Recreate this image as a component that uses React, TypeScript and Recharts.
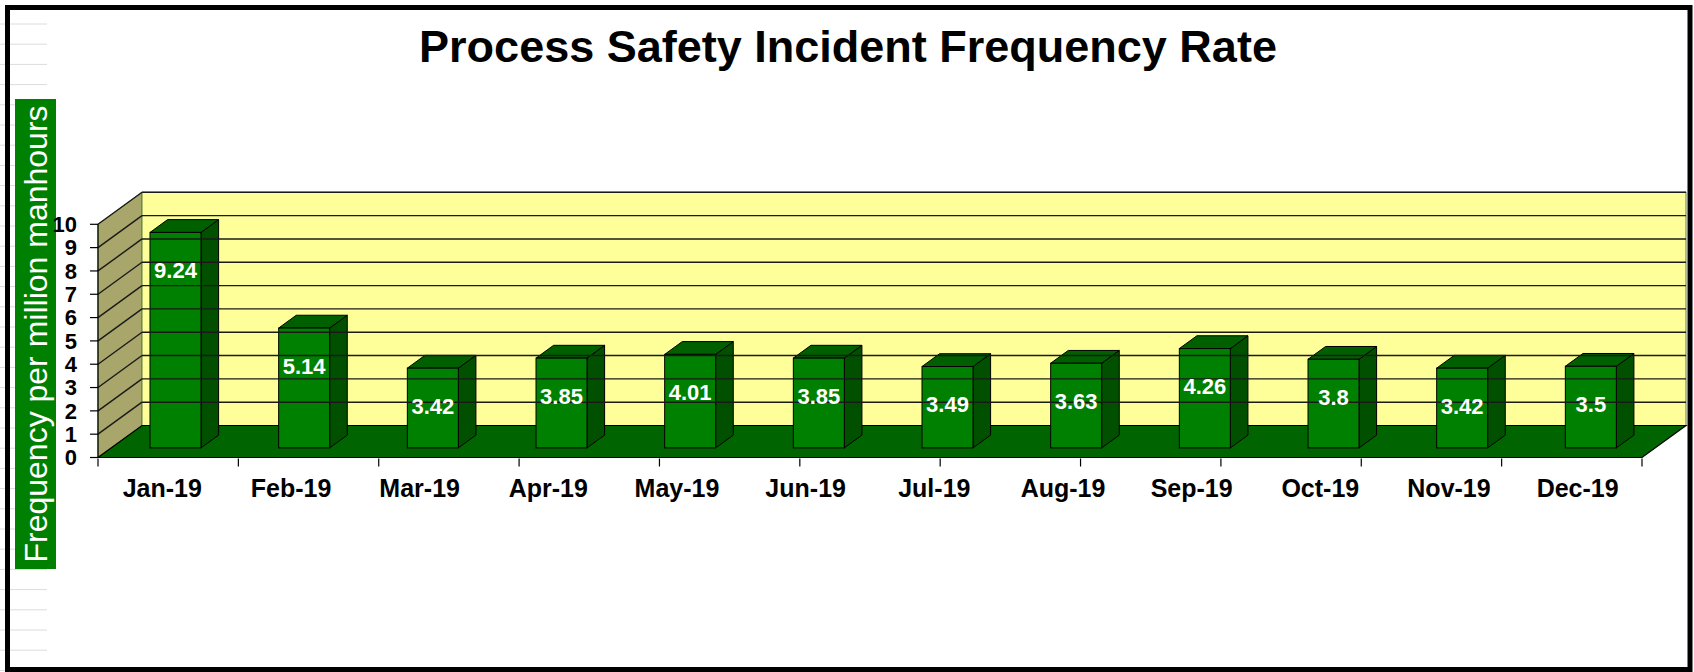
import { Bar, BarChart, LabelList, ReferenceArea, ReferenceLine, XAxis, YAxis } from "recharts";

const months = ["Jan-19", "Feb-19", "Mar-19", "Apr-19", "May-19", "Jun-19", "Jul-19", "Aug-19", "Sep-19", "Oct-19", "Nov-19", "Dec-19"];
const rates = [9.24, 5.14, 3.42, 3.85, 4.01, 3.85, 3.49, 3.63, 4.26, 3.8, 3.42, 3.5];
const yTicks = [0, 1, 2, 3, 4, 5, 6, 7, 8, 9, 10];
const gridValues = [1, 2, 3, 4, 5, 6, 7, 8, 9, 10];
const edgeTicks = [0, 1, 2, 3, 4, 5, 6, 7, 8, 9, 10, 11, 12];

const data = months.map((month, i) => ({ month, rate: rates[i] }));

const FONT = "'Liberation Sans', Arial, sans-serif";
const W = 1694;
const H = 672;

// depth of the 3d box (walls) and of each column
const DEPTH_X = 44;
const DEPTH_Y = 32;
const BAR_SHIFT_X = 13;
const BAR_SHIFT_Y = 9.6;
const BAR_DX = 17.6;
const BAR_DY = 12.8;

function Walls(props: any) {
  const { x, y, width, height } = props;
  const b = y + height;
  const pts = (p: number[][]) => p.map((q) => q.join(",")).join(" ");
  return (
    <g>
      <polygon
        points={pts([[x, b], [x, y], [x + DEPTH_X, y - DEPTH_Y], [x + DEPTH_X, b - DEPTH_Y]])}
        fill="#a8a66a"
        stroke="#4f8a2f"
        strokeWidth={1}
      />
      <rect x={x + DEPTH_X} y={y - DEPTH_Y} width={width} height={height} fill="#ffff99" stroke="#5f7f3f" strokeWidth={1} />
      <polygon
        points={pts([[x, b], [x + width, b], [x + width + DEPTH_X, b - DEPTH_Y], [x + DEPTH_X, b - DEPTH_Y]])}
        fill="#006400"
        stroke="#000"
        strokeWidth={1.2}
      />
    </g>
  );
}

function GridLine(props: any) {
  const { x1, y1, x2, y2 } = props;
  return (
    <g stroke="#1a1a1a" strokeWidth={1.4}>
      <line x1={x1} y1={y1} x2={x1 + DEPTH_X} y2={y1 - DEPTH_Y} />
      <line x1={x1 + DEPTH_X} y1={y1 - DEPTH_Y} x2={x2 + DEPTH_X} y2={y2 - DEPTH_Y} />
    </g>
  );
}

function Box3D(props: any) {
  const { x, y, width, height } = props;
  if (!height || height <= 0) return null;
  const fx = x + BAR_SHIFT_X;
  const fy = y - BAR_SHIFT_Y;
  const r = fx + width;
  return (
    <g stroke="#000" strokeWidth={1}>
      <polygon
        points={`${r},${fy} ${r + BAR_DX},${fy - BAR_DY} ${r + BAR_DX},${fy + height - BAR_DY} ${r},${fy + height}`}
        fill="#005000"
      />
      <polygon points={`${fx},${fy} ${fx + BAR_DX},${fy - BAR_DY} ${r + BAR_DX},${fy - BAR_DY} ${r},${fy}`} fill="#006000" />
      <rect x={fx} y={fy} width={width} height={height} fill="#008000" />
    </g>
  );
}

function BarValue(props: any) {
  const { x, y, width, value } = props;
  return (
    <text
      x={x + BAR_SHIFT_X + width / 2}
      y={y - BAR_SHIFT_Y + 38}
      textAnchor="middle"
      dominantBaseline="central"
      fill="#fff"
      fontFamily={FONT}
      fontWeight="bold"
      fontSize={22}
    >
      {value}
    </text>
  );
}

function MonthTick(props: any) {
  const { x, y, payload } = props;
  return (
    <text x={x} y={y} dy="0.71em" textAnchor="middle" fill="#000" fontFamily={FONT} fontWeight="bold" fontSize={25}>
      {payload.value}
    </text>
  );
}

function NoTick() {
  return <g />;
}

const rowStubs = Array.from({ length: 33 }, (_, k) => 24 + k * 20.2);

export default function App() {
  return (
    <div style={{ position: "absolute", left: 0, top: 0, width: W, height: H, background: "#fff" }}>
      <svg width={W} height={H} style={{ position: "absolute", left: 0, top: 0 }}>
        {rowStubs.map((sy, i) => (
          <line key={i} x1={0} x2={47} y1={sy} y2={sy} stroke="#dcdcdc" strokeWidth={1} />
        ))}
        <rect x={7.5} y={7.5} width={1682.5} height={662} fill="none" stroke="#000" strokeWidth={5} />
        <rect x={15} y={99} width={41} height={470} fill="#008000" />
        <text
          x={47}
          y={334}
          transform="rotate(-90 47 334)"
          textAnchor="middle"
          fill="#fff"
          fontFamily={FONT}
          fontSize={32}
        >
          Frequency per million manhours
        </text>
        <text x={848} y={61.7} textAnchor="middle" fill="#000" fontFamily={FONT} fontWeight="bold" fontSize={45}>
          Process Safety Incident Frequency Rate
        </text>
      </svg>
      <div style={{ position: "absolute", left: 0, top: 0 }}>
        <BarChart width={W} height={H} data={data} margin={{ top: 224.3, right: 52, left: 38, bottom: 154.5 }} barSize={51}>
          <XAxis
            dataKey="month"
            height={1}
            axisLine={false}
            tickLine={false}
            tickSize={10}
            tickMargin={12}
            interval={0}
            tick={<MonthTick />}
          />
          <XAxis
            xAxisId="edge"
            type="number"
            domain={[0, 12]}
            ticks={edgeTicks}
            interval={0}
            allowDataOverflow
            height={59}
            axisLine={false}
            tickSize={8}
            tickLine={{ stroke: "#000", strokeWidth: 1.2 }}
            tick={<NoTick />}
          />
          <YAxis
            domain={[0, 10]}
            ticks={yTicks}
            interval={0}
            width={60}
            tickSize={8}
            tickMargin={13}
            axisLine={{ stroke: "#000", strokeWidth: 1.2 }}
            tickLine={{ stroke: "#000", strokeWidth: 1.2 }}
            tick={{ fill: "#000", fontSize: 22, fontWeight: "bold", fontFamily: FONT }}
          />
          <ReferenceArea y1={0} y2={10} ifOverflow="visible" shape={<Walls />} />
          {gridValues.map((v) => (
            <ReferenceLine key={v} y={v} ifOverflow="visible" shape={<GridLine />} />
          ))}
          <Bar dataKey="rate" shape={<Box3D />} isAnimationActive={false}>
            <LabelList dataKey="rate" content={<BarValue />} />
          </Bar>
        </BarChart>
      </div>
    </div>
  );
}
